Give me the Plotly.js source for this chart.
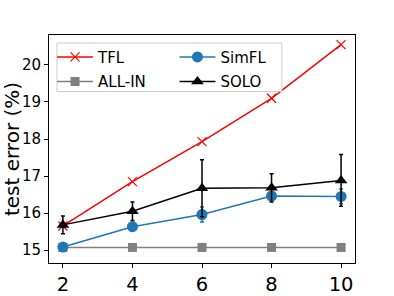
<!DOCTYPE html>
<html><head><meta charset="utf-8">
<script src="https://cdn.plot.ly/plotly-3.0.1.min.js"></script>
<style>html,body{margin:0;padding:0;background:#fff}#c{width:394px;height:296px}</style>
</head><body><div id="c"></div>
<script>
const xs = [2, 4, 6, 8, 10];
const tfl = [15.65, 16.85, 17.93, 19.1, 20.55];
const allin = [15.07, 15.07, 15.07, 15.07, 15.07];
const simfl = [15.08, 15.63, 15.96, 16.46, 16.45];
const simflErr = [0.1, 0.12, 0.2, 0.05, 0.2];
const solo = [15.68, 16.05, 16.67, 16.68, 16.88];
const soloErr = [0.24, 0.25, 0.77, 0.38, 0.7];
const xTicks = [2, 4, 6, 8, 10];
const yTicks = [15, 16, 17, 18, 19, 20];

const font = {family: 'DejaVu Sans', color: '#000'};
const legFont = {family: 'DejaVu Sans', size: 15, color: '#000'};
const traces = [
  {x: xs, y: tfl, name: 'TFL', mode: 'lines+markers', legend: 'legend', legendgroup: 'a',
   line: {color: '#ff0000', width: 1.5},
   marker: {symbol: 'x-thin', size: 9, line: {color: '#ff0000', width: 1.2}, color: '#ff0000'}},
  {x: xs, y: allin, name: 'ALL-IN', mode: 'lines+markers', legend: 'legend', legendgroup: 'b',
   line: {color: '#808080', width: 1.5},
   marker: {symbol: 'square', size: 9, color: '#808080'}},
  {x: xs, y: simfl, name: 'SimFL', mode: 'lines+markers', legend: 'legend2', legendgroup: 'c',
   error_y: {type: 'data', array: simflErr, visible: true, color: '#1f77b4', thickness: 1.5, width: 2},
   line: {color: '#1f77b4', width: 1.5},
   marker: {symbol: 'circle', size: 11, color: '#1f77b4'}},
  {x: xs, y: solo, name: 'SOLO', mode: 'lines+markers', legend: 'legend2', legendgroup: 'd',
   error_y: {type: 'data', array: soloErr, visible: true, color: '#000', thickness: 1.5, width: 2},
   line: {color: '#000', width: 1.5},
   marker: {symbol: 'triangle-up', size: 11, color: '#000'}}
];
const legBase = {orientation: 'v', xanchor: 'left', yanchor: 'top', y: 0.975,
  bgcolor: 'rgba(0,0,0,0)', borderwidth: 0, font: legFont, itemwidth: 36, tracegroupgap: 2};
const layout = {
  width: 394, height: 296,
  margin: {l: 49, r: 39, t: 35, b: 33},
  paper_bgcolor: '#fff', plot_bgcolor: '#fff',
  font: font,
  showlegend: true,
  legend: Object.assign({}, legBase, {x: 0.01}),
  legend2: Object.assign({}, legBase, {x: 0.41}),
  shapes: [{type: 'rect', xref: 'paper', yref: 'paper', x0: 0.026, x1: 0.761, y0: 0.752, y1: 0.965,
    line: {color: '#cccccc', width: 1}, fillcolor: 'rgba(255,255,255,0.8)', layer: 'above'}],
  xaxis: {range: [1.6, 10.4], tickvals: xTicks, ticktext: xTicks.map(String),
    showgrid: false, zeroline: false, showline: true, mirror: true, linecolor: '#000', linewidth: 1,
    ticks: 'outside', ticklen: 4, tickcolor: '#000', tickfont: {family: 'DejaVu Sans', size: 19.5, color: '#000'}},
  yaxis: {range: [14.65, 20.81], tickvals: yTicks, ticktext: yTicks.map(String),
    showgrid: false, zeroline: false, showline: true, mirror: true, linecolor: '#000', linewidth: 1,
    ticks: 'outside', ticklen: 4, tickcolor: '#000', tickfont: {family: 'DejaVu Sans', size: 15, color: '#000'},
    title: {text: 'test error (%)', font: {family: 'DejaVu Sans', size: 20, color: '#000'}, standoff: 5}}
};
Plotly.newPlot('c', traces, layout, {displayModeBar: false, staticPlot: true});
</script></body></html>
